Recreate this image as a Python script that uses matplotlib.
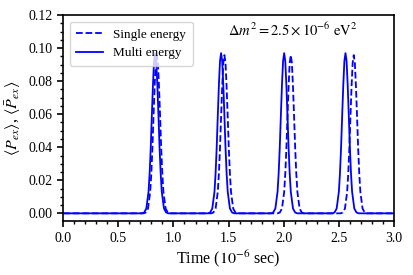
import numpy as np
import matplotlib
matplotlib.use("Agg")
import matplotlib.pyplot as plt
from matplotlib.ticker import MultipleLocator

plt.rcParams['font.family'] = ['Liberation Serif', 'DejaVu Serif']
plt.rcParams['mathtext.fontset'] = 'stix'

# Peak centres (in 10^-6 sec)
single_centers = [0.849, 1.462, 2.064, 2.635]
multi_centers = [0.834, 1.432, 2.004, 2.560]
single_height = 0.0958
multi_height = 0.0970

# Shape of one peak: offsets (10^-6 sec) and relative heights
profile_offsets = [-0.12, -0.10, -0.08, -0.06, -0.05, -0.04, -0.03, -0.02, -0.01, 0.0,
                   0.01, 0.02, 0.03, 0.04, 0.05, 0.06, 0.08, 0.10, 0.12]
profile_values = [0.0, 0.005, 0.03, 0.135, 0.25, 0.41, 0.61, 0.80, 0.95, 1.0,
                  0.95, 0.80, 0.61, 0.41, 0.25, 0.135, 0.03, 0.005, 0.0]


def build(centers, height):
    xs = [0.0]
    ys = [0.0]
    for c in centers:
        for o, v in zip(profile_offsets, profile_values):
            xs.append(c + o)
            ys.append(height * v)
    xs.append(3.0)
    ys.append(0.0)
    return np.array(xs), np.array(ys)


fig = plt.figure(figsize=(4.13, 2.75), dpi=100)
ax = fig.add_axes([0.153, 0.196, 0.801, 0.749])

xs, ys = build(single_centers, single_height)
xm, ym = build(multi_centers, multi_height)
ax.plot(xs, ys, '--', color='#0000ff', lw=1.3, label='Single energy')
ax.plot(xm, ym, '-', color='#0000ff', lw=1.3, label='Multi energy')

ax.set_xlim(0, 3.0)
ax.set_ylim(-0.0047, 0.12)
ax.xaxis.set_major_locator(MultipleLocator(0.5))
ax.xaxis.set_minor_locator(MultipleLocator(0.1))
ax.yaxis.set_major_locator(MultipleLocator(0.02))
ax.yaxis.set_minor_locator(MultipleLocator(0.005))
ax.xaxis.set_major_formatter(plt.FormatStrFormatter('%.1f'))
ax.yaxis.set_major_formatter(plt.FormatStrFormatter('%.2f'))
ax.tick_params(which='major', direction='out', length=4, width=1.2, labelsize=10)
ax.tick_params(which='minor', direction='out', length=2.5, width=1.0)
for s in ax.spines.values():
    s.set_linewidth(1.2)

ax.set_xlabel(r'Time ($10^{-6}$ sec)', fontsize=11.5, labelpad=3)
ax.set_ylabel(r'$\langle P_{ex}\rangle$, $\langle \bar{P}_{ex}\rangle$', fontsize=11.5)
ax.text(0.695, 0.93, r'$\Delta m^2 = 2.5\times 10^{-6}\ \mathrm{eV}^2$', transform=ax.transAxes,
        ha='center', va='center', fontsize=10.5)
ax.legend(loc='upper left', fontsize=9.5, handlelength=2.0, borderaxespad=0.5,
          labelspacing=0.5, borderpad=0.5)

fig.savefig('out.png', dpi=100)
